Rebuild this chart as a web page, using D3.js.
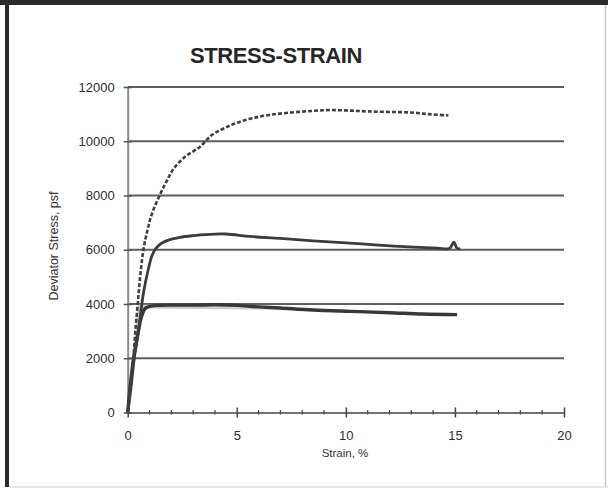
<!DOCTYPE html>
<html>
<head>
<meta charset="utf-8">
<script src="https://cdn.jsdelivr.net/npm/d3@7"></script>
<style>
  html, body { margin: 0; padding: 0; background: #fff; }
  svg { display: block; }
  text { font-family: Arial, "Liberation Sans", sans-serif; }
</style>
</head>
<body>
<svg id="chart" width="608" height="489"></svg>
<script>
// Triaxial test results: deviator stress (psf) against axial strain (%)
const chartTitle = "STRESS-STRAIN";
const xTitle = "Strain, %";
const yTitle = "Deviator Stress, psf";

const xTickValues = [0, 5, 10, 15, 20];
const xMinorTicks = d3.range(0, 21, 1);
const yTickValues = [0, 2000, 4000, 6000, 8000, 10000, 12000];

// Specimen 1 (highest confining pressure)
const strain1 = [0, 0.1, 0.2, 0.26, 0.35, 0.46, 0.57, 0.72, 0.9, 1.1, 1.46, 1.8, 2.1, 2.63, 3.32, 3.86, 4.4, 5.0, 5.7, 6.5, 7.5, 8.5, 9.3, 10.2, 11, 12, 13, 13.8, 14.7];
const stress1 = [0, 900, 1600, 2000, 3000, 4000, 5000, 6000, 6700, 7300, 8000, 8550, 8980, 9430, 9800, 10230, 10470, 10680, 10850, 10970, 11060, 11120, 11150, 11130, 11100, 11080, 11060, 11000, 10950];

// Specimen 2
const strain2 = [0, 0.15, 0.3, 0.5, 0.72, 0.95, 1.1, 1.25, 1.45, 1.7, 2.0, 2.4, 3, 3.55, 4.5, 5.6, 7, 8.5, 10.2, 11.5, 13.1, 14.2, 14.75, 14.95, 15.1, 15.25];
const stress2 = [0, 900, 2000, 3040, 4400, 5300, 5750, 6000, 6180, 6300, 6390, 6460, 6520, 6560, 6580, 6490, 6420, 6330, 6245, 6170, 6100, 6060, 6050, 6280, 6050, 6040];

// Specimen 3 (lowest confining pressure)
const strain3 = [0, 0.12, 0.27, 0.4, 0.5, 0.62, 0.8, 1.0, 1.4, 2, 3, 4, 5, 5.6, 7, 8.5, 10.2, 12, 13.5, 15.1];
const stress3 = [0, 1000, 2000, 2600, 3040, 3500, 3835, 3910, 3950, 3960, 3960, 3970, 3950, 3913, 3850, 3780, 3729, 3680, 3630, 3607];

const svg = d3.select("#chart");
const W = 608, H = 489;

// Page frame
svg.append("rect").attr("x", 0).attr("y", 0).attr("width", W).attr("height", 5).attr("fill", "#2b2b2b");
svg.append("rect").attr("x", 5).attr("y", 0).attr("width", 4).attr("height", H - 2).attr("fill", "#2b2b2b");
svg.append("line").attr("x1", 605.5).attr("x2", 605.5).attr("y1", 5).attr("y2", H - 2)
  .attr("stroke", "#c8c8c8").attr("stroke-width", 1.5);
svg.append("line").attr("x1", 9).attr("x2", W).attr("y1", 487).attr("y2", 487)
  .attr("stroke", "#dddddd").attr("stroke-width", 1.5);

const x = d3.scaleLinear().domain([0, 20]).range([127.7, 564]);
const y = d3.scaleLinear().domain([0, 12000]).range([412.5, 87]);

// Title
svg.append("text").attr("x", 276).attr("y", 63).attr("text-anchor", "middle")
  .attr("font-size", 22).attr("font-weight", "bold").attr("letter-spacing", -0.4)
  .attr("fill", "#262626").text(chartTitle);

// Horizontal gridlines
svg.append("g").selectAll("line").data(yTickValues.filter(d => d > 0)).join("line")
  .attr("x1", x(0)).attr("x2", x(20))
  .attr("y1", d => y(d)).attr("y2", d => y(d))
  .attr("stroke", "#5e5e5e").attr("stroke-width", 2);

// Y axis
const yAxis = d3.axisLeft(y).tickValues(yTickValues).tickSize(0).tickPadding(13).tickFormat(d3.format("d"));
const gy = svg.append("g").attr("transform", `translate(${x(0)},0)`).call(yAxis);
gy.select(".domain").attr("stroke", "#8a8a8a").attr("stroke-width", 2);
gy.selectAll("text").attr("font-size", 13).attr("fill", "#2e2e2e").attr("font-family", "Arial, 'Liberation Sans', sans-serif");
gy.selectAll(".tick").append("line").attr("x1", -4).attr("x2", 4).attr("stroke", "#555").attr("stroke-width", 1.5);

// X axis with minor ticks at every 1 % strain
const xAxis = d3.axisBottom(x).tickValues(xTickValues).tickSize(0).tickPadding(18).tickFormat(d3.format("d"));
const gx = svg.append("g").attr("transform", `translate(0,${y(0)})`).call(xAxis);
gx.select(".domain").attr("stroke", "#444").attr("stroke-width", 1.6);
gx.selectAll("text").attr("font-size", 13).attr("fill", "#2e2e2e").attr("font-family", "Arial, 'Liberation Sans', sans-serif");
gx.selectAll(".tick").append("line").attr("y1", -5).attr("y2", 5).attr("stroke", "#444").attr("stroke-width", 1.5);
gx.append("g").selectAll("line").data(xMinorTicks.filter(d => d % 5 !== 0)).join("line")
  .attr("x1", d => x(d)).attr("x2", d => x(d)).attr("y1", -2.5).attr("y2", 2)
  .attr("stroke", "#444").attr("stroke-width", 1.2);

// Axis titles
svg.append("text").attr("x", 345).attr("y", 457).attr("text-anchor", "middle")
  .attr("font-size", 11.5).attr("fill", "#333").text(xTitle);
svg.append("text").attr("transform", "translate(58,246) rotate(-90)").attr("text-anchor", "middle")
  .attr("font-size", 12.5).attr("fill", "#333").text(yTitle);

// Faint cloud of readings near the origin, bounded by specimens 1 and 3
const cloud = strain1.map((s, i) => [s, stress1[i]]).filter(p => p[1] <= 4000)
  .concat(strain3.map((s, i) => [s, stress3[i]]).filter(p => p[1] <= 3835).reverse());
svg.append("path").datum(cloud)
  .attr("d", d3.line().x(d => x(d[0])).y(d => y(d[1])))
  .attr("fill", "#a8a8a8").attr("fill-opacity", 0.6).attr("stroke", "none");

const smooth = d3.line().x(d => x(d[0])).y(d => y(d[1])).curve(d3.curveCatmullRom);

svg.append("path").datum(strain3.map((s, i) => [s, stress3[i]]))
  .attr("d", smooth).attr("fill", "none").attr("stroke", "#383838").attr("stroke-width", 3.4)
  .attr("stroke-linejoin", "round");

svg.append("path").datum(strain2.map((s, i) => [s, stress2[i]]))
  .attr("d", smooth).attr("fill", "none").attr("stroke", "#3c3c3c").attr("stroke-width", 2.8)
  .attr("stroke-linejoin", "round");

svg.append("path").datum(strain1.map((s, i) => [s, stress1[i]]))
  .attr("d", smooth).attr("fill", "none").attr("stroke", "#404040").attr("stroke-width", 2.6)
  .attr("stroke-dasharray", "4 2");
</script>
</body>
</html>
